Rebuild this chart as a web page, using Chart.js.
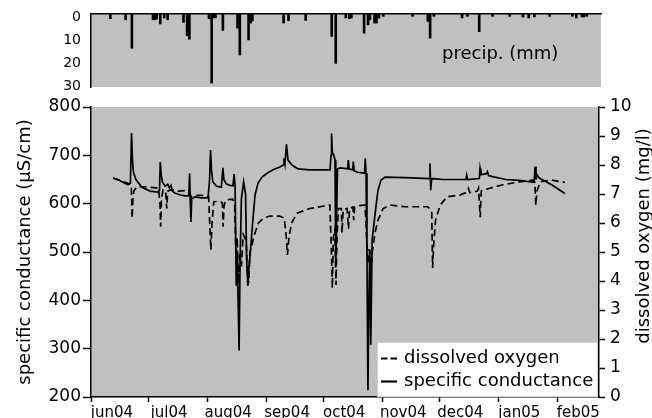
<!DOCTYPE html>
<html><head><meta charset="utf-8">
<script src="https://cdn.jsdelivr.net/npm/chart.js@4.4.1/dist/chart.umd.min.js"></script>
<style>
html,body{margin:0;padding:0;background:#fff;}
#wrap{position:relative;width:652px;height:418px;overflow:hidden;}
canvas{position:absolute;left:0;top:0;}
</style></head><body>
<div id="wrap">
<canvas id="main" width="652" height="418"></canvas>
<canvas id="precip" width="652" height="100"></canvas>
</div>
<script>
// ---- data (days since 1 Jun 2004) ----
const monthDays = [0,30,61,92,122,153,183,214,245];
const monthLabels = ['jun04','jul04','aug04','sep04','oct04','nov04','dec04','jan05','feb05'];
const condTicks = [200,300,400,500,600,700,800];
const doTicks = [0,1,2,3,4,5,6,7,8,9,10];
const precipTicks = [0,10,20,30];

const precipDays = [10.2,18.2,21.5,32.6,33.6,34.5,36.4,38.5,40.3,48.6,50.5,51.7,62.0,63.4,64.5,65.4,69.3,77.0,78.2,82.8,83.9,84.8,101.2,103.8,112.8,126.5,128.6,133.9,135.8,136.8,143.5,145.6,146.6,149.0,150.0,151.3,153.6,169.0,177.0,178.2,180.2,195.0,197.8,204.0,211.0,220.0,227.0,230.0,233.0,241.0,253.0,255.0,258.0,259.0,260.5];
const precipMM   = [2.0,2.5,14.8,2.5,2.5,2.2,4.3,1.7,2.5,3.6,9.4,10.9,2.0,29.8,1.7,1.7,7.1,6.1,17.7,11.2,3.9,3.0,3.9,2.9,2.8,9.7,21.3,1.7,2.0,1.7,8.3,4.7,2.5,3.9,3.9,1.8,1.0,1.0,3.2,10.4,1.0,1.7,1.0,7.6,1.0,1.0,1.3,1.7,1.3,1.0,1.0,1.7,1.3,1.3,1.0];

const condDays = [11.6,15.0,19.4,20.7,21.3,21.8,22.3,23.6,26.8,31.0,35.2,36.0,36.4,36.9,37.5,39.0,40.3,41.2,42.0,42.8,44.0,47.0,49.4,51.4,51.8,52.2,52.5,52.9,54.7,58.0,61.5,62.3,62.8,63.3,64.0,66.0,68.5,69.3,69.8,71.0,73.0,74.6,75.2,75.7,76.3,76.8,77.3,77.8,78.3,79.0,80.2,81.2,81.8,82.4,83.0,83.6,84.6,86.2,87.8,89.9,92.5,95.6,99.3,100.9,101.4,101.9,102.7,103.5,105.6,108.8,115.0,125.6,126.1,126.4,126.8,127.5,128.2,128.6,129.0,129.5,131.0,134.8,135.2,135.6,137.5,137.8,138.3,140.0,143.7,144.1,144.5,145.0,145.5,146.0,146.5,147.0,147.7,148.6,149.8,150.8,152.4,154.5,165.0,177.8,178.1,178.5,179.0,185.0,197.0,197.4,197.9,204.0,204.4,204.9,207.8,208.3,208.9,211.0,218.0,225.0,232.8,233.3,233.8,234.3,235.5,242.0,249.0];
const condVals = [653,648,639,642,746,690,665,650,634,626,624,628,686,660,645,636,640,633,638,626,622,618,616,616,663,600,562,610,614,612,612,650,711,670,645,636,634,674,650,641,638,637,661,637,430,500,400,296,470,610,645,620,480,430,470,494,545,618,643,655,663,670,676,680,694,682,723,690,680,672,670,670,700,745,705,702,690,470,560,672,674,672,690,672,670,687,668,665,663,694,663,483,214,400,504,308,525,556,597,628,649,655,654,652,683,628,652,650,650,659,650,652,673,660,662,666,658,656,650,648,644,677,650,660,653,639,621];

const doDays = [11.6,14.0,18.0,20.5,21.2,21.6,22.0,22.5,24.0,28.0,33.0,35.5,36.3,36.6,37.0,37.8,39.2,39.8,40.3,42.0,46.0,50.0,52.0,52.6,55.0,60.0,61.8,62.5,63.0,63.6,64.5,67.0,69.0,69.4,69.9,71.0,74.5,75.5,76.3,76.8,77.4,78.2,79.0,80.0,81.5,82.3,82.9,83.5,84.5,85.5,88.0,90.6,94.0,99.0,101.5,102.5,103.2,104.0,105.4,108.2,115.0,120.3,125.5,126.3,126.8,127.3,128.2,128.7,129.3,130.0,131.5,131.9,132.5,134.5,135.3,135.8,137.6,138.0,138.5,141.0,144.0,144.8,145.5,146.2,147.0,147.8,149.2,150.8,153.5,157.0,165.0,177.0,179.0,179.5,180.0,181.0,183.5,187.0,194.0,197.0,198.3,199.0,203.0,203.6,204.5,205.0,207.0,209.5,216.0,225.0,232.0,233.2,233.7,234.3,236.0,242.0,249.0];
const doVals = [7.55,7.5,7.4,7.35,7.2,6.16,6.8,7.1,7.25,7.25,7.22,7.2,6.6,5.87,6.8,7.14,7.1,6.5,7.1,7.15,7.1,7.12,7.0,6.9,6.95,6.95,6.9,5.8,5.07,6.0,6.73,6.75,6.7,5.87,6.6,6.8,6.82,6.6,4.6,5.5,3.9,5.0,4.5,5.6,5.4,4.2,3.93,5.0,5.2,5.53,6.0,6.17,6.24,6.24,6.17,5.6,4.9,5.5,6.0,6.34,6.5,6.56,6.62,5.0,3.75,5.5,5.8,3.86,5.6,6.5,6.5,5.65,6.45,6.5,5.8,6.5,6.55,6.1,6.55,6.6,6.62,5.5,4.6,5.1,4.3,5.0,5.65,6.1,6.5,6.62,6.56,6.56,6.4,4.45,5.2,6.1,6.62,6.9,6.97,7.05,7.2,7.05,7.1,7.2,6.2,7.1,7.15,7.2,7.31,7.42,7.48,7.4,6.6,7.1,7.42,7.48,7.4];

// ---- rendering ----
const FONT = "'DejaVu Sans', Verdana, sans-serif";
Chart.defaults.font.family = FONT;
Chart.defaults.color = '#000';
Chart.defaults.animation = false;

const GRAY = '#c0c0c0';
const bgPlugin = {
  id: 'bgfill',
  beforeDraw(chart) {
    const {ctx, chartArea: a} = chart;
    ctx.save();
    ctx.fillStyle = GRAY;
    ctx.fillRect(a.left, a.top, a.right - a.left, a.bottom - a.top);
    ctx.restore();
  }
};

const pts = (xs, ys) => xs.map((x, i) => ({x: x, y: ys[i]}));
const noPad = s => { s.paddingTop = 0; s.paddingBottom = 0; s.paddingLeft = 0; s.paddingRight = 0; };

const mainExtras = {
  id: 'mainExtras',
  afterDraw(chart) {
    const ctx = chart.ctx;
    const ds = chart.data.datasets;
    ctx.save();
    // right axis title (reads bottom-to-top)
    ctx.translate(644, 236);
    ctx.rotate(-Math.PI / 2);
    ctx.font = '18px ' + FONT;
    ctx.fillStyle = '#000';
    ctx.textAlign = 'center';
    ctx.textBaseline = 'middle';
    ctx.fillText(chart.options.scales.yD.titleText, 0, 0);
    ctx.restore();

    // legend box
    ctx.save();
    ctx.fillStyle = '#ffffff';
    ctx.fillRect(377, 342, 221, 54);
    ctx.strokeStyle = '#d4d4d4';
    ctx.lineWidth = 1;
    ctx.strokeRect(377.5, 342.5, 220, 54);
    ctx.font = '18px ' + FONT;
    ctx.fillStyle = '#000';
    ctx.textAlign = 'left';
    ctx.textBaseline = 'alphabetic';
    const rows = [{d: ds[0], y: 358.5, ty: 363}, {d: ds[1], y: 381.5, ty: 385.5}];
    rows.forEach(r => {
      ctx.beginPath();
      ctx.strokeStyle = '#000';
      ctx.lineWidth = 2.2;
      ctx.setLineDash(r.d.borderDash && r.d.borderDash.length ? [6.5, 3] : []);
      ctx.moveTo(381, r.y);
      ctx.lineTo(397, r.y);
      ctx.stroke();
      ctx.setLineDash([]);
      ctx.fillText(r.d.label, 404, r.ty);
    });
    ctx.restore();
  }
};

new Chart(document.getElementById('main'), {
  type: 'line',
  data: {
    datasets: [
      {label: 'dissolved oxygen', data: pts(doDays, doVals), yAxisID: 'yD',
       borderColor: '#000', borderWidth: 1.7, borderDash: [7, 4], pointRadius: 0, tension: 0, fill: false},
      {label: 'specific conductance', data: pts(condDays, condVals), yAxisID: 'yC',
       borderColor: '#000', borderWidth: 1.7, pointRadius: 0, tension: 0, fill: false}
    ]
  },
  options: {
    responsive: false,
    animation: false,
    layout: {padding: {top: 107, left: 0, right: 0, bottom: 0}},
    plugins: {legend: {display: false}, tooltip: {enabled: false}},
    scales: {
      x: {
        type: 'linear', position: 'bottom', min: 0, max: 266.9,
        afterBuildTicks: s => { s.ticks = monthDays.map(v => ({value: v})); },
        afterFit: s => { s.height = 21; noPad(s); },
        grid: {drawOnChartArea: false, drawTicks: true, tickLength: 5, tickColor: '#000', tickWidth: 1.5},
        border: {display: true, color: '#000', width: 1.5},
        ticks: {font: {size: 15}, color: '#000', padding: 2, labelOffset: 21, maxRotation: 0, autoSkip: false,
                callback: (v, i) => monthLabels[i]}
      },
      yC: {
        type: 'linear', position: 'left', min: 200, max: 800,
        afterBuildTicks: s => { s.ticks = condTicks.map(v => ({value: v})); },
        afterFit: s => { s.width = 91; noPad(s); },
        grid: {drawOnChartArea: false, drawTicks: true, tickLength: 8, tickColor: '#000', tickWidth: 1.5},
        border: {display: true, color: '#000', width: 1.5},
        ticks: {font: {size: 17}, color: '#000', padding: 2},
        title: {display: true, text: 'specific conductance (μS/cm)', font: {size: 18}, color: '#000', padding: {top: 15, bottom: 0}}
      },
      yD: {
        type: 'linear', position: 'right', min: 0, max: 10,
        titleText: 'dissolved oxygen (mg/l)',
        afterBuildTicks: s => { s.ticks = doTicks.map(v => ({value: v})); },
        afterFit: s => { s.width = 53; noPad(s); },
        grid: {drawOnChartArea: false, drawTicks: true, tickLength: 6, tickColor: '#000', tickWidth: 1.5},
        border: {display: true, color: '#000', width: 1.5},
        ticks: {font: {size: 17}, color: '#000', padding: 5}
      }
    }
  },
  plugins: [bgPlugin, mainExtras]
});

const precipExtras = {
  id: 'precipExtras',
  afterDraw(chart) {
    const ctx = chart.ctx;
    ctx.save();
    ctx.font = '18px ' + FONT;
    ctx.fillStyle = '#000';
    ctx.textAlign = 'left';
    ctx.textBaseline = 'alphabetic';
    ctx.fillText('precip. (mm)', 442, 58.5);
    ctx.restore();
  }
};

new Chart(document.getElementById('precip'), {
  type: 'bar',
  data: {
    datasets: [{label: 'precip. (mm)', data: pts(precipDays, precipMM), backgroundColor: '#000',
                borderWidth: 0, barThickness: 2}]
  },
  options: {
    responsive: false,
    animation: false,
    layout: {padding: {top: 14, left: 0, right: 51, bottom: 13}},
    plugins: {legend: {display: false}, tooltip: {enabled: false}},
    scales: {
      x: {
        type: 'linear', position: 'top', min: 0, max: 268, offset: false,
        afterFit: s => { s.height = 0; noPad(s); },
        grid: {display: true, offset: false, drawOnChartArea: false, drawTicks: false},
        border: {display: true, color: '#000', width: 1.5},
        ticks: {display: false}
      },
      y: {
        type: 'linear', position: 'left', min: 0, max: 31.5, reverse: true,
        afterBuildTicks: s => { s.ticks = precipTicks.map(v => ({value: v})); },
        afterFit: s => { s.width = 91; noPad(s); },
        grid: {drawOnChartArea: false, drawTicks: false},
        border: {display: true, color: '#000', width: 1.5},
        ticks: {font: {size: 14}, color: '#000', padding: 10, labelOffset: 3}
      }
    }
  },
  plugins: [bgPlugin, precipExtras]
});
</script>
</body></html>
